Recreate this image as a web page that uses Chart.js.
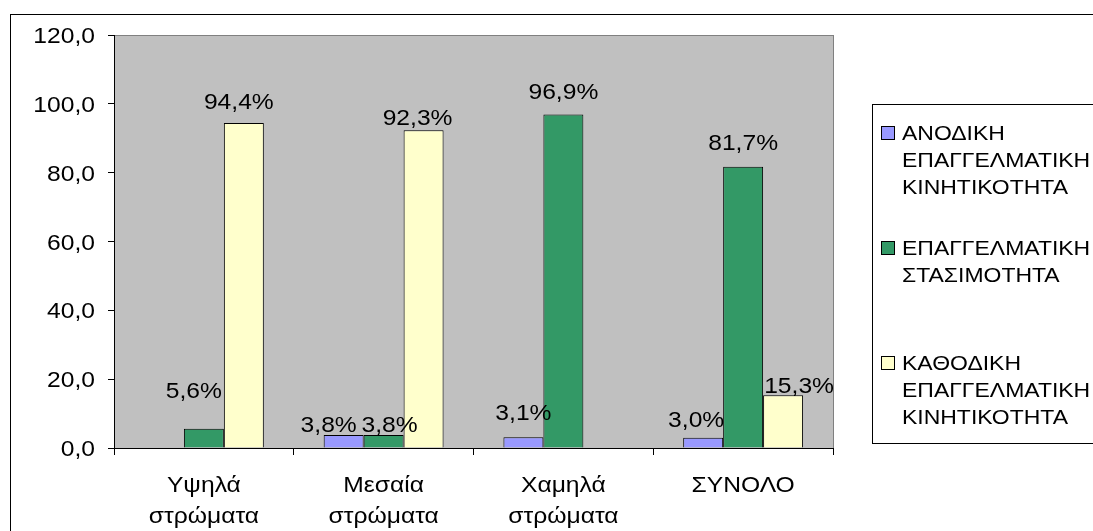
<!DOCTYPE html>
<html>
<head>
<meta charset="utf-8">
<script src="https://cdn.jsdelivr.net/npm/chart.js@4.4.0/dist/chart.umd.min.js"></script>
<style>
  html, body { margin: 0; padding: 0; background: #fff; }
  #wrap { position: relative; width: 1093px; height: 531px; }
</style>
</head>
<body>
<div id="wrap"><canvas id="chart" width="1093" height="531"></canvas></div>
<script>
// categories (x axis)
var categories = [['Υψηλά', 'στρώματα'], ['Μεσαία', 'στρώματα'], ['Χαμηλά', 'στρώματα'], ['ΣΥΝΟΛΟ']];

// series names (legend lines)
var seriesNames = [
  ['ΑΝΟΔΙΚΗ', 'ΕΠΑΓΓΕΛΜΑΤΙΚΗ', 'ΚΙΝΗΤΙΚΟΤΗΤΑ'],
  ['ΕΠΑΓΓΕΛΜΑΤΙΚΗ', 'ΣΤΑΣΙΜΟΤΗΤΑ'],
  ['ΚΑΘΟΔΙΚΗ', 'ΕΠΑΓΓΕΛΜΑΤΙΚΗ', 'ΚΙΝΗΤΙΚΟΤΗΤΑ']
];

// series values (%)
var anodiki     = [0, 3.8, 3.1, 3.0];
var stasimotita = [5.6, 3.8, 96.9, 81.7];
var kathodiki   = [94.4, 92.3, 0, 15.3];

// y axis ticks
var yTicks = [0, 20, 40, 60, 80, 100, 120];

var seriesColors = ['#9999FF', '#339966', '#FFFFCC'];
var FONT = "'Liberation Sans', Arial, sans-serif";
var SX = 1.12; // the original text is a bit wide, stretch it

function fmt(v, d) {
  return v.toFixed(d).replace('.', ',');
}

function wideText(ctx, t, x, y, align) {
  ctx.save();
  ctx.translate(x, y);
  ctx.scale(SX, 1);
  ctx.textAlign = align;
  ctx.fillText(t, 0, 0);
  ctx.restore();
}

// outer frame + plot background
var framePlugin = {
  id: 'frame',
  beforeDraw: function(chart) {
    var ctx = chart.ctx, a = chart.chartArea;
    ctx.save();
    ctx.fillStyle = '#fff';
    ctx.fillRect(0, 0, chart.width, chart.height);
    ctx.strokeStyle = '#000';
    ctx.lineWidth = 1;
    ctx.strokeRect(10.5, 14.5, chart.width + 20, chart.height + 20);
    ctx.fillStyle = '#C0C0C0';
    ctx.fillRect(a.left, a.top, a.right - a.left, a.bottom - a.top);
    ctx.strokeStyle = '#808080';
    ctx.strokeRect(a.left + 0.5, a.top + 0.5, a.right - a.left, a.bottom - a.top);
    ctx.restore();
  }
};

// axis labels, drawn at the scale positions
var axisText = {
  id: 'axisText',
  afterDraw: function(chart) {
    var ctx = chart.ctx, a = chart.chartArea;
    var xs = chart.scales.x, ys = chart.scales.y;
    ctx.save();
    ctx.font = '22px ' + FONT;
    ctx.fillStyle = '#000';
    ctx.textBaseline = 'alphabetic';
    yTicks.forEach(function(v) {
      wideText(ctx, fmt(v, 1), a.left - 19, ys.getPixelForValue(v) + 8, 'right');
    });
    categories.forEach(function(lines, i) {
      var x = xs.getPixelForValue(i);
      lines.forEach(function(t, k) {
        wideText(ctx, t, x, a.bottom + 44 + k * 31, 'center');
      });
    });
    ctx.restore();
  }
};

// value labels above bars
var valueLabels = {
  id: 'valueLabels',
  afterDatasetsDraw: function(chart, args, opts) {
    var ctx = chart.ctx;
    var nudge = opts.nudge || {};
    ctx.save();
    ctx.font = '22px ' + FONT;
    ctx.fillStyle = '#000';
    ctx.textBaseline = 'alphabetic';
    chart.data.datasets.forEach(function(ds, i) {
      var meta = chart.getDatasetMeta(i);
      meta.data.forEach(function(bar, j) {
        var v = ds.data[j];
        if (!v) return;
        var n = nudge[i + ',' + j] || [0, 0];
        wideText(ctx, fmt(v, 1) + '%', bar.x + n[0], bar.y - 14 + n[1], 'center');
      });
    });
    ctx.restore();
  }
};

// excel-style legend box on the right
var boxLegend = {
  id: 'boxLegend',
  afterDraw: function(chart) {
    var ctx = chart.ctx, a = chart.chartArea;
    var left = a.right + 39, top = a.top + 69, bottom = a.bottom - 5;
    ctx.save();
    ctx.strokeStyle = '#000';
    ctx.lineWidth = 1;
    ctx.strokeRect(left + 0.5, top + 0.5, chart.width, bottom - top);
    ctx.font = '20.5px ' + FONT;
    ctx.textBaseline = 'alphabetic';
    var y0 = top + 29, step = 115, lh = 27;
    seriesNames.forEach(function(lines, i) {
      var y = y0 + i * step;
      ctx.fillStyle = seriesColors[i];
      ctx.fillRect(left + 9.5, y - 6.5, 13, 13);
      ctx.strokeStyle = '#000';
      ctx.strokeRect(left + 9.5, y - 6.5, 13, 13);
      ctx.fillStyle = '#000';
      lines.forEach(function(t, k) {
        wideText(ctx, t, left + 30, y + 7 + k * lh, 'left');
      });
    });
    ctx.restore();
  }
};

var ctx = document.getElementById('chart').getContext('2d');
var myChart = new Chart(ctx, {
  type: 'bar',
  data: {
    labels: categories,
    datasets: [
      { label: seriesNames[0].join(' '), data: anodiki, backgroundColor: seriesColors[0] },
      { label: seriesNames[1].join(' '), data: stasimotita, backgroundColor: seriesColors[1] },
      { label: seriesNames[2].join(' '), data: kathodiki, backgroundColor: seriesColors[2] }
    ]
  },
  options: {
    responsive: false,
    animation: false,
    layout: { padding: { left: 0, top: 35, right: 260, bottom: 0 } },
    datasets: {
      bar: {
        borderColor: '#000',
        borderWidth: 1,
        borderSkipped: 'bottom',
        categoryPercentage: 0.667,
        barPercentage: 1
      }
    },
    plugins: {
      legend: { display: false },
      tooltip: { enabled: false },
      // hand placed labels in the original
      valueLabels: {
        nudge: {
          '1,0': [-10, -17],
          '0,1': [-15, 11],
          '1,1': [6, 11],
          '2,1': [-6, 9],
          '0,2': [0, -3],
          '1,2': [0, -2],
          '0,3': [-7, 3],
          '1,3': [0, -3],
          '2,3': [16, 12],
          '2,0': [-5, 0]
        }
      }
    },
    scales: {
      x: {
        grid: { offset: true, drawOnChartArea: false, tickLength: 7, tickColor: '#000' },
        border: { color: '#000' },
        ticks: { display: false },
        afterFit: function(s) { s.height = 83; }
      },
      y: {
        min: 0,
        max: 120,
        afterBuildTicks: function(s) { s.ticks = yTicks.map(function(v) { return { value: v }; }); },
        grid: { drawOnChartArea: false, tickLength: 6, tickColor: '#000' },
        border: { color: '#000' },
        ticks: { display: false },
        afterFit: function(s) { s.width = 114; }
      }
    }
  },
  plugins: [framePlugin, valueLabels, axisText, boxLegend]
});
</script>
</body>
</html>
